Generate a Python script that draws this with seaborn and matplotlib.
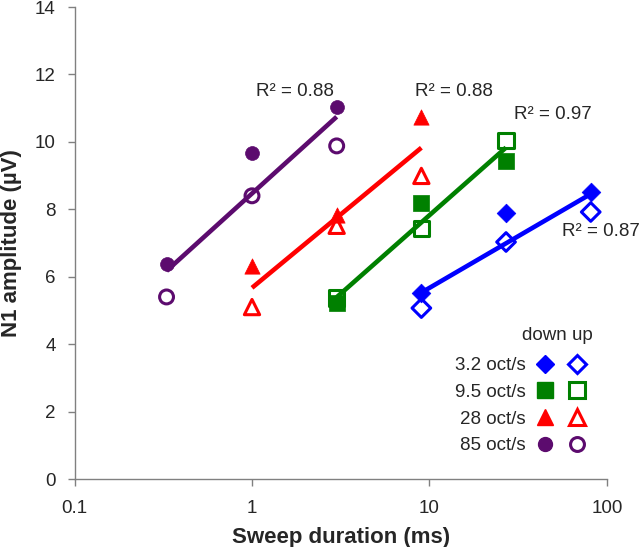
import numpy as np
import pandas as pd
import matplotlib
matplotlib.use('Agg')
import matplotlib.pyplot as plt
import seaborn as sns
from matplotlib.lines import Line2D
from matplotlib.legend_handler import HandlerTuple
from matplotlib.ticker import FixedLocator, NullLocator

# values
rates = ['3.2 oct/s', '9.5 oct/s', '28 oct/s', '85 oct/s']

dur_32 = [9, 27, 81]
down_32 = [5.52, 7.89, 8.52]
up_32 = [5.07, 7.03, 7.92]

dur_95 = [3, 9, 27]
down_95 = [5.22, 8.19, 9.44]
up_95 = [5.37, 7.42, 10.03]

dur_28 = [1, 3, 9]
down_28 = [6.32, 7.83, 10.74]
up_28 = [5.10, 7.51, 8.99]

dur_85 = [0.33, 1, 3]
down_85 = [6.38, 9.67, 11.04]
up_85 = [5.40, 8.40, 9.88]

r2_labels = ['R² = 0.87', 'R² = 0.97', 'R² = 0.88', 'R² = 0.88']

colors = ['#0000ff', '#008000', '#ff0000', '#5c0b6e']
markers = ['D', 's', '^', 'o']
msizes = [9.5, 11, 11, 10]
# where the R² labels sit (data coords)
r2_pos = [(92, 7.33), (49.6, 10.8), (13.7, 11.48), (1.75, 11.48)]

rows = []
for rate, dur, down, up in zip(rates, [dur_32, dur_95, dur_28, dur_85],
                               [down_32, down_95, down_28, down_85],
                               [up_32, up_95, up_28, up_85]):
    for d, a in zip(dur, down):
        rows.append((rate, 'down', d, a))
    for d, a in zip(dur, up):
        rows.append((rate, 'up', d, a))
df = pd.DataFrame(rows, columns=['rate', 'direction', 'duration', 'amplitude'])

sns.set_style('ticks')
plt.rcParams['font.family'] = ['Liberation Sans', 'DejaVu Sans']

fig, ax = plt.subplots(figsize=(6.44, 5.47), dpi=100)
fig.subplots_adjust(left=0.1157, right=0.9425, bottom=0.1243, top=0.9872)
ax.set_xscale('log')

for rate, c, m, ms in zip(rates, colors, markers, msizes):
    sub = df[df.rate == rate]
    dn = sub[sub.direction == 'down']
    upd = sub[sub.direction == 'up']
    sns.scatterplot(data=dn, x='duration', y='amplitude', marker=m, s=ms ** 2,
                    color=c, edgecolor=c, linewidth=0.5, ax=ax, zorder=3)
    sns.scatterplot(data=upd, x='duration', y='amplitude', marker=m, s=ms ** 2,
                    facecolor='none', edgecolor=c, linewidth=2.2, ax=ax, zorder=3)
    sns.regplot(data=sub, x='duration', y='amplitude', logx=True, ci=None,
                scatter=False, truncate=True, color=c,
                line_kws={'linewidth': 3.3, 'solid_capstyle': 'butt', 'zorder': 4}, ax=ax)

for lab, (px, py) in zip(r2_labels, r2_pos):
    ax.text(px, py, lab, ha='center', va='center', fontsize=13.5)

ax.set_xlim(0.1, 100)
ax.set_ylim(0, 14)
ax.xaxis.set_major_locator(FixedLocator([0.1, 1, 10, 100]))
ax.xaxis.set_minor_locator(NullLocator())
ax.set_xticklabels(['0.1', '1', '10', '100'])
ax.set_yticks(np.arange(0, 15, 2))

sns.despine(ax=ax)
for sp in ['left', 'bottom']:
    ax.spines[sp].set_color('#808080')
    ax.spines[sp].set_linewidth(1)
ax.tick_params(axis='both', which='major', direction='out', length=5, width=1,
               color='#808080', labelsize=13.5)
ax.tick_params(axis='x', pad=10)
ax.tick_params(axis='y', pad=8.5)

ax.set_xlabel('Sweep duration (ms)', fontsize=16, fontweight='bold', labelpad=7.5)
ax.set_ylabel('N1 amplitude (µV)', fontsize=16, fontweight='bold', labelpad=9.5)

# legend: filled = down, open = up
handles = []
for c, m, ms in zip(colors, markers, msizes):
    h_down = Line2D([], [], ls='none', marker=m, markersize=ms, color=c)
    h_up = Line2D([], [], ls='none', marker=m, markersize=ms, markerfacecolor='none',
                  markeredgecolor=c, markeredgewidth=2.2)
    handles.append((h_down, h_up))
ax.legend(handles, rates, handler_map={tuple: HandlerTuple(ndivide=None, pad=0)},
          markerfirst=False, frameon=False, fontsize=13.5, handlelength=3.4,
          handletextpad=0.2, labelspacing=0.51, loc='upper right',
          bbox_to_anchor=(0.974, 0.258), borderaxespad=0, borderpad=0)
ax.text(0.974, 0.305, 'down up', transform=ax.transAxes, ha='right', va='center',
        fontsize=13.5)

fig.savefig('out.png', dpi=100)
